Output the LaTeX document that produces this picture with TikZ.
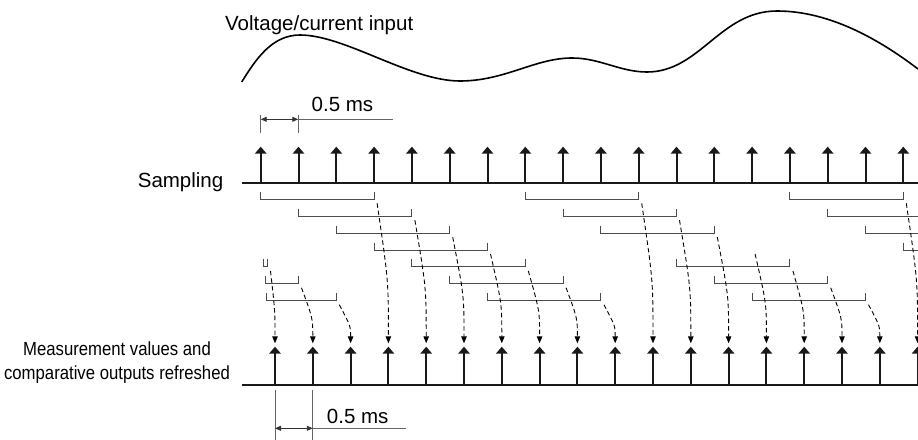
\documentclass[tikz,border=0pt]{standalone}
\usepackage{fontspec}
\setmainfont{Liberation Sans}
\newfontfamily\narrowfont[FakeStretch=0.88]{Liberation Sans}
\usetikzlibrary{arrows.meta}

\begin{document}
\begin{tikzpicture}[x=1pt,y=-1pt,
lbl/.style={font=\fontsize{20.5}{24}\selectfont,inner sep=0pt},
axis/.style={line width=2.3pt,black!90},
sample/.style={-{Triangle[length=7pt,width=11.5pt]},line width=2pt,black!90},
bracket/.style={black!70,line width=1pt},
dasharrow/.style={-{Triangle[length=7pt,width=5.5pt]},line width=0.9pt,dash pattern=on 4.5pt off 3pt},
dim/.style={{Triangle[length=6pt,width=5pt]}-{Triangle[length=6pt,width=5pt]},line width=0.9pt,black!80},
guide/.style={line width=0.9pt,black!60} ]

\clip (0,0) rectangle (918,439);

\node[lbl,anchor=base west](volt) at (225,30) {Voltage/current input};
\node[lbl,anchor=base east](samp) at (223.5,187) {Sampling};
\node[font=\narrowfont\fontsize{19}{24}\selectfont,align=center,inner sep=0pt](meas) at (117,363) {Measurement values and\\comparative outputs refreshed};

\draw[line width=1.6pt] (241.7,82) .. controls (256,59) and (272,35) .. (300,35)
  .. controls (345,35) and (410,81) .. (460,81)
  .. controls (505,81) and (535,58) .. (572,58)
  .. controls (600,58) and (620,72) .. (647,72)
  .. controls (700,72) and (720,11) .. (777,11)
  .. controls (830,11) and (880,40) .. (918,69);

\coordinate (top0) at (241.7,183);
\coordinate (top1) at (930,183);
\coordinate (bot0) at (241.7,385);
\coordinate (bot1) at (930,385);
\draw[axis] (top0) -- (top1);
\draw[axis] (bot0) -- (bot1);

\foreach \i in {0,...,17}{
  \pgfmathsetmacro\xs{260.7+37.8*\i}
  \pgfmathsetmacro\xm{275+37.8*\i}
  \coordinate (s\i) at (\xs,183);
  \coordinate (st\i) at (\xs,146.7);
  \coordinate (m\i) at (\xm,385);
  \coordinate (mt\i) at (\xm,346.7);
  \draw[sample] (s\i) -- (st\i);
  \draw[sample] (m\i) -- (mt\i);
}

\foreach \j in {3,...,12,14,15,16,17}{
  \pgfmathsetmacro\xl{260.7+37.8*(\j-3)}
  \pgfmathsetmacro\xr{260.7+37.8*\j}
  \pgfmathsetmacro\yr{199.3+16.9*mod(\j+4,7)}
  \draw[bracket] (\xl,\yr-7.5) -- (\xl,\yr) -- (\xr,\yr) -- (\xr,\yr-7.5);
}
\draw[bracket] (263.5,259.4) -- (263.5,266.9) -- (267.5,266.9) -- (267.5,259.4);
\draw[bracket] (265.5,276.3) -- (265.5,283.8) -- (298.3,283.8) -- (298.3,276.3);
\draw[bracket] (266.5,293.2) -- (266.5,300.7) -- (336.3,300.7) -- (336.3,293.2);
\draw[bracket] (827.7,208.7) -- (827.7,216.2) -- (930,216.2);
\draw[bracket] (865.5,225.6) -- (865.5,233.1) -- (930,233.1);
\draw[bracket] (903.3,242.5) -- (903.3,250) -- (930,250);

\foreach \j in {0,...,17}{
  \pgfmathsetmacro\xr{\j==0 ? 267.5 : 260.7+37.8*\j}
  \pgfmathsetmacro\yr{199.3+16.9*mod(\j+4,7)}
  \pgfmathsetmacro\xe{275+37.8*\j}
  \pgfmathsetmacro\yc{\yr+4+0.55*(343.3-\yr-4)}
  \coordinate (b\j) at (\xr+3,\yr+4);
  \coordinate (c\j) at (\xe,\yc);
  \coordinate (d\j) at (\xe,343.3);
  \draw[dasharrow] (b\j) .. controls (c\j) .. (d\j);
}

\coordinate (tA) at (260.7,115);
\coordinate (tB) at (298.3,115);
\coordinate (tAe) at (260.7,133.3);
\coordinate (tBe) at (298.3,133.3);
\coordinate (tg) at (393.3,119.3);
\draw[guide] (tA) -- (tAe);
\draw[guide] (tB) -- (tBe);
\draw[dim] (tA |- tg) -- (tB |- tg);
\draw[guide] (tB |- tg) -- (tg);
\node[lbl,anchor=base west](dimtop) at (311.5,111.7) {0.5 ms};

\coordinate (bA) at (275,390);
\coordinate (bB) at (312.8,390);
\coordinate (bAe) at (275,440);
\coordinate (bBe) at (312.8,440);
\coordinate (bg) at (406,428.3);
\draw[guide] (bA) -- (bAe);
\draw[guide] (bB) -- (bBe);
\draw[dim] (bA |- bg) -- (bB |- bg);
\draw[guide] (bB |- bg) -- (bg);
\node[lbl,anchor=base west](dimbot) at (326.7,423.3) {0.5 ms};
\end{tikzpicture}
\end{document}
